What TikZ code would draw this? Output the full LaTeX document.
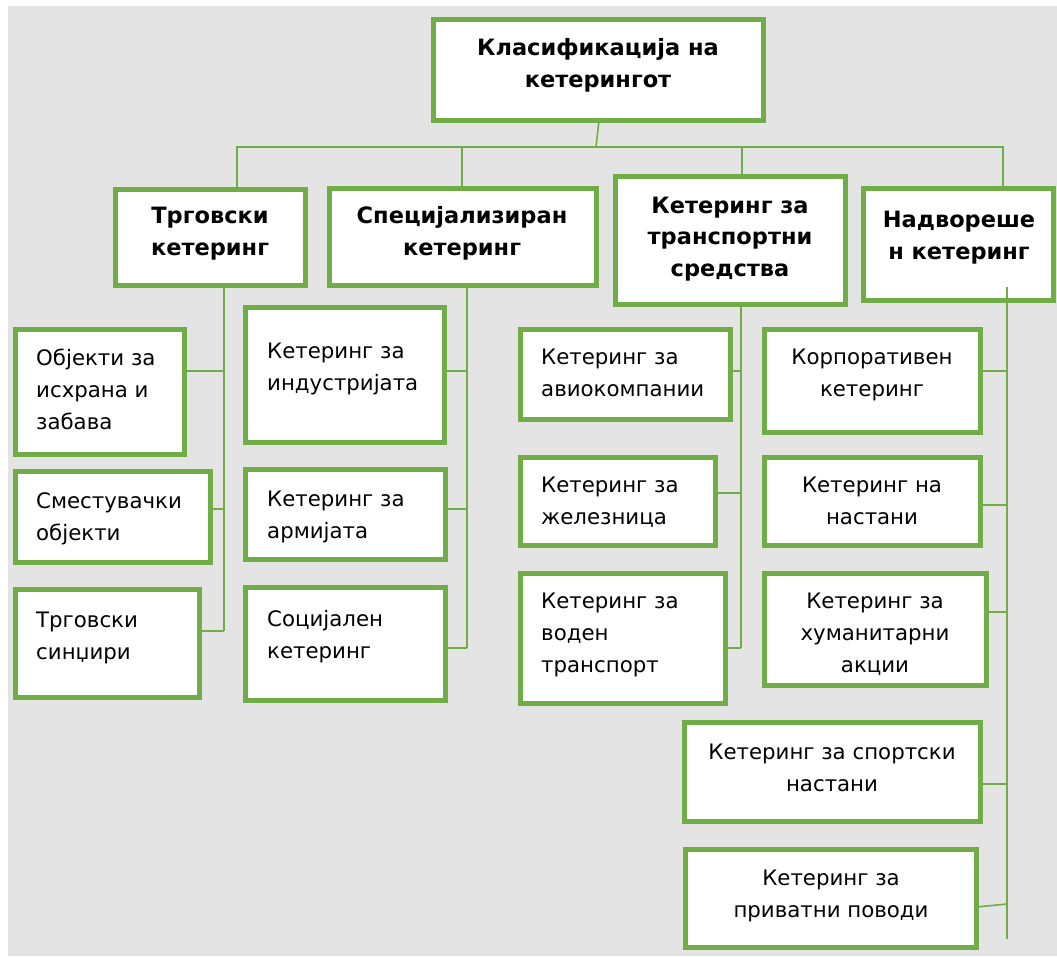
\documentclass[tikz,border=0pt]{standalone}
\usepackage{fontspec}
\setmainfont{DejaVu Sans}
\usetikzlibrary{calc}
\definecolor{bggray}{HTML}{E4E4E4}
\definecolor{grn}{HTML}{70AD47}
\newcommand{\bfnt}{\fontsize{22.5}{31.5}\selectfont\bfseries}
\newcommand{\rfnt}{\fontsize{21.3}{32}\selectfont}
\newcommand{\gbox}[5]{\node[gbox, minimum width={#4-#2-5}, minimum height={#5-#3-5}] (#1) at ({(#2+#4)/2},{(#3+#5)/2}) {};}
\tikzset{
  gbox/.style={rectangle, draw=grn, line width=5pt, fill=white, inner sep=0pt, outer sep=0pt},
  conn/.style={draw=grn, line width=1.6pt},
  btxt/.style={font=\bfnt, anchor=base, align=center, inner sep=0pt},
  ltxt/.style={font=\rfnt, anchor=base west, align=left, inner sep=0pt},
  ctxt/.style={font=\rfnt, anchor=base, align=center, inner sep=0pt}
}
\begin{document}
\begin{tikzpicture}[x=1pt,y=-1pt]
\useasboundingbox (0,0) rectangle (1057,956);
\fill[white] (0,0) rectangle (1057,956);
\fill[bggray] (8,6) rectangle (1057,956);
% boxes
\gbox{root}{431}{17}{766}{123}
\gbox{t}{113}{187}{308}{288}
\gbox{s}{327}{186}{599}{288}
\gbox{tr}{613}{174}{848}{307}
\gbox{n}{861}{186}{1056}{303}
\gbox{a1}{13}{327}{187}{457}
\gbox{a2}{13}{469}{213}{565}
\gbox{a3}{13}{587}{202}{700}
\gbox{b1}{243}{305}{447}{445}
\gbox{b2}{243}{467}{448}{562}
\gbox{b3}{243}{585}{448}{703}
\gbox{c1}{518}{327}{733}{422}
\gbox{c2}{518}{455}{718}{548}
\gbox{c3}{518}{571}{728}{706}
\gbox{d1}{762}{327}{983}{435}
\gbox{d2}{762}{455}{983}{548}
\gbox{d3}{762}{571}{989}{688}
\gbox{d4}{682}{720}{983}{824}
\gbox{d5}{683}{847}{979}{950}
% top connectors
\coordinate (hub) at (596,147);
\draw[conn] (root.south -| 599,0) -- (hub);
\draw[conn] (t.north -| 237,0) -- (hub -| 237,0) -- (hub -| 1003,0) -- (n.north -| 1003,0);
\draw[conn] (s.north -| 462,0) -- (hub -| 462,0);
\draw[conn] (tr.north -| 742,0) -- (hub -| 742,0);
% trunk 1
\coordinate (k1) at (224,631);
\draw[conn] (t.south -| k1) -- (k1);
\draw[conn] (a1.east |- 0,371) -- (k1 |- 0,371);
\draw[conn] (a2.east |- 0,509) -- (k1 |- 0,509);
\draw[conn] (a3.east |- k1) -- (k1);
% trunk 2
\coordinate (k2) at (467,648);
\draw[conn] (s.south -| k2) -- (k2);
\draw[conn] (b1.east |- 0,371) -- (k2 |- 0,371);
\draw[conn] (b2.east |- 0,509) -- (k2 |- 0,509);
\draw[conn] (b3.east |- k2) -- (k2);
% trunk 3
\coordinate (k3) at (741,648);
\draw[conn] (tr.south -| k3) -- (k3);
\draw[conn] (c1.east |- 0,371) -- (k3 |- 0,371);
\draw[conn] (c2.east |- 0,493) -- (k3 |- 0,493);
\draw[conn] (c3.east |- k3) -- (k3);
% trunk 4
\coordinate (k4top) at (1007,287);
\coordinate (k4) at (1007,939);
\draw[conn] (k4top) -- (k4);
\draw[conn] (d1.east |- 0,371) -- (k4 |- 0,371);
\draw[conn] (d2.east |- 0,505) -- (k4 |- 0,505);
\draw[conn] (d3.east |- 0,612) -- (k4 |- 0,612);
\draw[conn] (d4.east |- 0,784) -- (k4 |- 0,784);
\draw[conn] (d5.east |- 0,907) -- (k4 |- 0,904);
% texts (anchored at the baseline of the last line)
\node[btxt] (roott) at (598,87) {Класификација на\\кетерингот};
\node[btxt] (tt) at (210,255) {Трговски\\кетеринг};
\node[btxt] (st) at (462,255) {Специјализиран\\кетеринг};
\node[btxt] (trt) at (730,276) {Кетеринг за\\транспортни\\средства};
\node[btxt] (nt) at (959,259) {Надвореше\\н кетеринг};
\node[ltxt] (a1t) at (36,429) {Објекти за\\исхрана и\\забава};
\node[ltxt] (a2t) at (36,540) {Сместувачки\\објекти};
\node[ltxt] (a3t) at (36,659) {Трговски\\синџири};
\node[ltxt] (b1t) at (267,390) {Кетеринг за\\индустријата};
\node[ltxt] (b2t) at (267,538) {Кетеринг за\\армијата};
\node[ltxt] (b3t) at (267,658) {Социјален\\кетеринг};
\node[ltxt] (c1t) at (541,396) {Кетеринг за\\авиокомпании};
\node[ltxt] (c2t) at (541,524) {Кетеринг за\\железница};
\node[ltxt] (c3t) at (541,672) {Кетеринг за\\воден\\транспорт};
\node[ctxt] (d1t) at (872,396) {Корпоративен\\кетеринг};
\node[ctxt] (d2t) at (872,524) {Кетеринг на\\настани};
\node[ctxt] (d3t) at (875,672) {Кетеринг за\\хуманитарни\\акции};
\node[ctxt] (d4t) at (832,791) {Кетеринг за спортски\\настани};
\node[ctxt] (d5t) at (831,917) {Кетеринг за\\приватни поводи};
\end{tikzpicture}
\end{document}
